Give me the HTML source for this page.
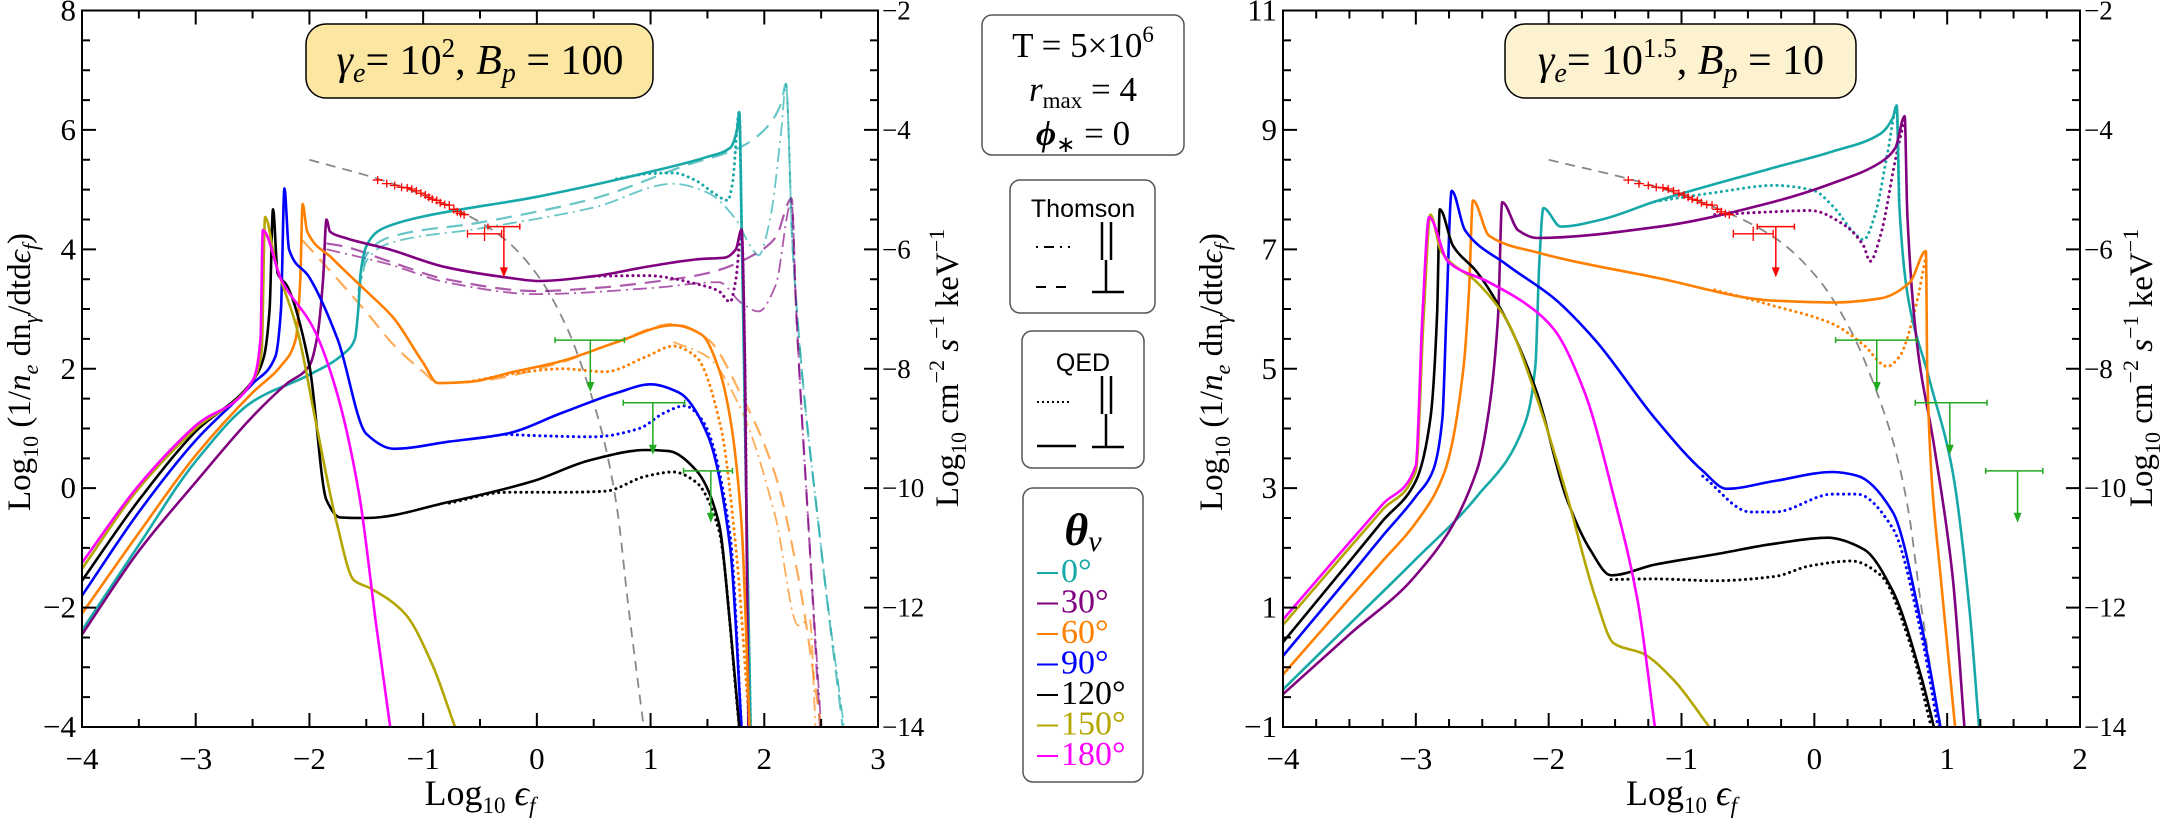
<!DOCTYPE html>
<html><head><meta charset="utf-8">
<style>
html,body{margin:0;padding:0;background:#fff;}
svg{display:block;}
text{font-family:"Liberation Serif",serif;fill:#000;}
.sans{font-family:"Liberation Sans",sans-serif;}
</style></head>
<body>
<svg id="chart" width="2170" height="820" viewBox="0 0 2170 820" xmlns="http://www.w3.org/2000/svg">
  <g id="left-panel"></g>
  <g id="right-panel"></g>

  <g>
    <rect x="306" y="24" width="347" height="74" rx="20" fill="#fce7a2" stroke="#000" stroke-width="1.5"/>
    <text x="480" y="74" font-size="42" text-anchor="middle"><tspan font-style="italic">γ</tspan><tspan font-style="italic" font-size="28" dy="8">e</tspan><tspan dy="-8">= 10</tspan><tspan font-size="27" dy="-17">2</tspan><tspan dy="17">,   </tspan><tspan font-style="italic">B</tspan><tspan font-style="italic" font-size="28" dy="8">p</tspan><tspan dy="-8"> = 100</tspan></text>
  </g>
  <g>
    <rect x="1505" y="24" width="351" height="74" rx="20" fill="#fdf2d0" stroke="#000" stroke-width="1.5"/>
    <text x="1681" y="74" font-size="42" text-anchor="middle"><tspan font-style="italic">γ</tspan><tspan font-style="italic" font-size="28" dy="8">e</tspan><tspan dy="-8">= 10</tspan><tspan font-size="27" dy="-17">1.5</tspan><tspan dy="17">,   </tspan><tspan font-style="italic">B</tspan><tspan font-style="italic" font-size="28" dy="8">p</tspan><tspan dy="-8"> = 10</tspan></text>
  </g>

  <g>
    <rect x="982" y="15" width="202" height="140" rx="10" fill="#fff" stroke="#555" stroke-width="1.5"/>
    <text x="1083" y="57" font-size="35" text-anchor="middle">T = 5×10<tspan font-size="23" dy="-15">6</tspan></text>
    <text x="1083" y="101" font-size="35" text-anchor="middle"><tspan font-style="italic">r</tspan><tspan font-size="23" dy="7">max</tspan><tspan dy="-7"> = 4</tspan></text>
    <text x="1083" y="145" font-size="35" text-anchor="middle"><tspan font-style="italic" font-weight="bold">ϕ</tspan><tspan font-size="23" dy="7">∗</tspan><tspan dy="-7"> = 0</tspan></text>
  </g>
  <g>
    <rect x="1010" y="180" width="145" height="133" rx="10" fill="#fff" stroke="#555" stroke-width="1.5"/>
    <text class="sans" x="1083" y="217" font-size="25" text-anchor="middle">Thomson</text>
    <line x1="1036" y1="247" x2="1070" y2="247" stroke="#000" stroke-width="2" stroke-dasharray="2,6,10,6"/>
    <line x1="1036" y1="287" x2="1076" y2="287" stroke="#000" stroke-width="2" stroke-dasharray="10,10"/>
    <line x1="1102" y1="222" x2="1102" y2="260" stroke="#000" stroke-width="2.5"/>
    <line x1="1111" y1="222" x2="1111" y2="260" stroke="#000" stroke-width="2.5"/>
    <line x1="1106" y1="260" x2="1106" y2="292" stroke="#000" stroke-width="2.5"/>
    <line x1="1092" y1="292" x2="1124" y2="292" stroke="#000" stroke-width="2.5"/>
  </g>
  <g>
    <rect x="1022" y="331" width="122" height="137" rx="10" fill="#fff" stroke="#555" stroke-width="1.5"/>
    <text class="sans" x="1083" y="371" font-size="25" text-anchor="middle">QED</text>
    <line x1="1037" y1="402" x2="1070" y2="402" stroke="#000" stroke-width="2" stroke-dasharray="2,3"/>
    <line x1="1037" y1="446" x2="1076" y2="446" stroke="#000" stroke-width="2.5"/>
    <line x1="1102" y1="376" x2="1102" y2="414" stroke="#000" stroke-width="2.5"/>
    <line x1="1111" y1="376" x2="1111" y2="414" stroke="#000" stroke-width="2.5"/>
    <line x1="1106" y1="414" x2="1106" y2="447" stroke="#000" stroke-width="2.5"/>
    <line x1="1092" y1="447" x2="1124" y2="447" stroke="#000" stroke-width="2.5"/>
  </g>
  <g id="theta-legend">
    <rect x="1023" y="488" width="120" height="294" rx="10" fill="#fff" stroke="#555" stroke-width="1.5"/>
    <text x="1083" y="545" font-size="46" font-style="italic" font-weight="bold" text-anchor="middle">θ<tspan font-size="30" font-weight="normal" dy="6">v</tspan></text>
  </g>
</svg>
<script>
var angleLabels = ["0°","30°","60°","90°","120°","150°","180°"];
var angleColors = ["#17a8a8","#800080","#ff8000","#0000ff","#000000","#b3a600","#ff00ff"];

var L_cyan = [[-4,-2.38],[-3.5,-0.95],[-3,0.45],[-2.5,1.45],[-2,1.9],[-1.7,2.25],[-1.6,2.5],[-1.57,3.0],[-1.55,3.6],[-1.5,4.05],[-1.4,4.3],[-1.26,4.42],[-1,4.55],[0,4.88],[1,5.3],[1.5,5.55],[1.7,5.7],[1.76,6.0],[1.78,6.3],[1.8,4.5],[1.84,0],[1.88,-4]];
var L_cyanDot = [[0.7,5.18],[1.0,5.27],[1.2,5.28],[1.4,5.15],[1.55,4.95],[1.68,4.82],[1.72,5.1],[1.78,6.3],[1.8,4.5],[1.84,0],[1.88,-4]];
var L_cyanDash = [[-1.57,3.3],[-1.5,3.9],[-1.3,4.2],[-0.5,4.45],[0.5,4.85],[1.3,5.4],[1.8,5.72],[2.0,6.0],[2.15,6.45],[2.19,6.77],[2.25,4.0],[2.5,-1],[2.69,-4]];
var L_cyanDashDot = [[-1.57,3.2],[-1.5,3.8],[-1.3,4.1],[-0.5,4.35],[0.5,4.7],[1.2,5.1],[1.5,4.95],[1.75,4.5],[1.88,4.05],[1.95,3.9],[2.05,4.5],[2.15,6.0],[2.19,6.77],[2.25,4.0],[2.5,-1],[2.7,-4]];
var L_purple = [[-4,-2.45],[-3.5,-1.05],[-3,0.1],[-2.5,1.2],[-2.2,1.75],[-2,2.05],[-1.93,2.55],[-1.88,3.5],[-1.85,4.5],[-1.82,4.3],[-1.7,4.2],[-1.3,4.0],[-0.8,3.7],[-0.27,3.53],[0.02,3.47],[0.5,3.55],[1.0,3.72],[1.45,3.84],[1.65,3.86],[1.75,4.0],[1.8,4.33],[1.83,2],[1.86,-4]];
var L_purpleDot = [[0.5,3.55],[0.96,3.56],[1.45,3.4],[1.6,3.3],[1.7,3.12],[1.75,3.5],[1.8,4.33],[1.83,2],[1.86,-4]];
var L_purpleDash = [[-1.85,4.1],[-1.7,4.05],[-1.3,3.8],[-0.8,3.5],[0,3.3],[0.5,3.35],[1.0,3.45],[1.5,3.6],[1.9,3.9],[2.1,4.2],[2.24,4.85],[2.28,3],[2.4,-1],[2.49,-4]];
var L_purpleDashDot = [[-1.85,4.0],[-1.3,3.75],[-0.8,3.45],[0,3.25],[1,3.35],[1.6,3.45],[1.8,3.1],[1.95,2.96],[2.1,3.4],[2.24,4.8],[2.28,3],[2.4,-1],[2.5,-4]];
var L_orange = [[-4,-2.1],[-3.5,-0.75],[-3,0.55],[-2.5,1.6],[-2.25,2.05],[-2.12,2.5],[-2.08,3.5],[-2.06,4.76],[-2.02,4.3],[-1.8,3.85],[-1.5,3.3],[-1.26,2.85],[-1,2.1],[-0.87,1.76],[-0.6,1.78],[-0.2,1.95],[0.22,2.13],[0.71,2.45],[1.2,2.73],[1.45,2.57],[1.6,2.0],[1.7,1.17],[1.8,-0.6],[1.87,-4]];
var L_orangeDot = [[-0.6,1.78],[-0.2,1.92],[0.22,2.0],[0.6,1.95],[0.96,2.2],[1.2,2.38],[1.4,2.2],[1.62,1.0],[1.75,-1],[1.87,-4]];
var L_orangeDash = [[-2.06,4.15],[-1.8,3.6],[-1.5,2.95],[-1.26,2.4],[-1,1.95],[-0.87,1.76],[-0.5,1.8],[0.2,2.1],[0.7,2.45],[1.2,2.75],[1.5,2.5],[1.8,1.55],[2.1,0.2],[2.3,-1.5],[2.5,-4]];
var L_orangeDashDot = [[1.2,2.45],[1.5,2.2],[1.8,1.3],[2.1,-0.5],[2.3,-2.3],[2.4,-2.2],[2.45,-4]];
var L_blue = [[-4,-1.8],[-3.5,-0.4],[-3,0.8],[-2.5,1.75],[-2.3,2.2],[-2.25,3],[-2.22,5.02],[-2.18,4.0],[-2,3.53],[-1.75,2.48],[-1.5,0.91],[-1.26,0.66],[-0.77,0.78],[-0.27,0.91],[0.22,1.26],[0.71,1.6],[1.0,1.74],[1.25,1.6],[1.5,0.9],[1.7,-1.0],[1.8,-4]];
var L_blueDot = [[-0.27,0.9],[0,0.88],[0.5,0.86],[0.9,1.0],[1.12,1.26],[1.3,1.38],[1.45,1.15],[1.7,-0.8],[1.8,-4]];
var L_black = [[-4,-1.55],[-3.5,-0.2],[-3,0.95],[-2.5,1.8],[-2.4,2.2],[-2.35,3],[-2.32,4.67],[-2.28,3.6],[-2.2,3.4],[-2,2.05],[-1.85,-0.2],[-1.73,-0.49],[-1.5,-0.5],[-0.77,-0.23],[-0.03,0.12],[0.47,0.47],[0.96,0.64],[1.16,0.62],[1.4,0.3],[1.6,-0.58],[1.7,-2.3],[1.78,-4]];
var L_blackDot = [[-0.77,-0.25],[-0.27,-0.07],[0.22,-0.07],[0.6,-0.05],[0.96,0.2],[1.2,0.27],[1.4,0.1],[1.6,-0.7],[1.78,-4]];
var L_olive = [[-4,-1.35],[-3.5,0],[-3,1.0],[-2.5,1.8],[-2.42,2.3],[-2.39,4.54],[-2.3,3.8],[-2.1,2.6],[-1.95,1.17],[-1.76,-0.58],[-1.61,-1.54],[-1.46,-1.68],[-1.16,-2.1],[-0.92,-2.95],[-0.72,-4]];
var L_magenta = [[-4,-1.25],[-3.5,0.05],[-3,1.05],[-2.5,1.8],[-2.43,2.5],[-2.41,4.32],[-2.25,3.5],[-1.96,2.66],[-1.76,1.61],[-1.56,-0.14],[-1.41,-2.33],[-1.29,-4]];

var R_cyan = [[-4,-0.37],[-3.5,0.72],[-3,1.81],[-2.54,2.86],[-2.18,4.08],[-2.1,5.05],[-2.07,6.8],[-2.04,7.69],[-1.91,7.38],[-1.6,7.5],[-1.2,7.8],[-0.3,8.37],[0.14,8.64],[0.5,8.94],[0.59,9.2],[0.62,9.41],[0.64,7.75],[0.7,6.27],[0.86,4.87],[1.04,3.29],[1.17,0.93],[1.24,-1]];
var R_cyanDot = [[-1.2,7.8],[-0.75,7.95],[-0.3,8.07],[0,7.98],[0.14,7.72],[0.32,7.23],[0.37,7.16],[0.46,7.6],[0.55,8.6],[0.62,9.35],[0.64,7.75]];
var R_purple = [[-4,-0.45],[-3.5,0.55],[-3,1.54],[-2.54,3.3],[-2.45,4.3],[-2.38,5.92],[-2.35,7.79],[-2.23,7.32],[-2.09,7.19],[-1.2,7.37],[-0.3,7.8],[0.14,8.11],[0.5,8.46],[0.61,8.7],[0.68,9.23],[0.7,7.6],[0.77,5.48],[0.9,3.73],[1.04,1.54],[1.13,-1]];
var R_purpleDot = [[-0.75,7.58],[-0.3,7.63],[-0.03,7.65],[0.23,7.4],[0.37,7.06],[0.42,6.8],[0.5,7.25],[0.61,8.5],[0.68,9.2]];
var R_orange = [[-4,-0.12],[-3.5,1.15],[-3.25,1.78],[-3,2.42],[-2.78,3.3],[-2.64,5.05],[-2.6,6.3],[-2.57,7.82],[-2.45,7.23],[-2.09,6.95],[-1.2,6.53],[-0.3,6.14],[0.14,6.11],[0.5,6.18],[0.72,6.45],[0.84,6.97],[0.85,5.0],[0.88,3.29],[0.95,1.54],[1.06,-1]];
var R_orangeDot = [[-0.75,6.32],[-0.3,6.05],[0.14,5.75],[0.37,5.4],[0.55,5.04],[0.64,5.2],[0.77,6.1],[0.84,6.9]];
var R_blue = [[-4,0.19],[-3.5,1.52],[-3.25,2.2],[-3,2.86],[-2.87,3.3],[-2.8,4.17],[-2.77,5.92],[-2.73,7.98],[-2.63,7.32],[-2.32,6.75],[-1.96,6.18],[-1.65,5.48],[-1.2,4.17],[-0.84,3.29],[-0.66,2.99],[-0.3,3.12],[0.14,3.27],[0.32,3.21],[0.59,2.6],[0.81,0.67],[0.95,-1]];
var R_blueDot = [[-0.84,3.2],[-0.48,2.6],[-0.3,2.6],[0.14,2.9],[0.32,2.9],[0.59,2.33],[0.81,0.5],[0.93,-1]];
var R_black = [[-4,0.42],[-3.5,1.77],[-3.25,2.45],[-3,3.12],[-2.89,4.17],[-2.84,5.92],[-2.82,7.67],[-2.72,7.06],[-2.54,6.62],[-2.32,5.83],[-2.09,4.61],[-1.87,2.86],[-1.69,1.98],[-1.53,1.54],[-1.2,1.72],[-0.75,1.89],[-0.3,2.07],[0.1,2.17],[0.37,1.98],[0.59,1.28],[0.81,-0.2],[0.9,-1]];
var R_blackDot = [[-1.53,1.47],[-1.2,1.48],[-0.75,1.45],[-0.3,1.52],[-0.03,1.7],[0.28,1.78],[0.5,1.54],[0.72,0.4],[0.88,-1]];
var R_olive = [[-4,0.71],[-3.5,2.0],[-3.25,2.64],[-3,3.29],[-2.94,5.92],[-2.89,7.58],[-2.81,6.97],[-2.54,6.45],[-2.32,5.83],[-2.09,4.52],[-1.87,2.94],[-1.64,1.11],[-1.51,0.4],[-1.29,0.23],[-1.06,-0.21],[-0.79,-1]];
var R_magenta = [[-4,0.8],[-3.5,2.09],[-3.25,2.73],[-3,3.38],[-2.95,5.92],[-2.9,7.54],[-2.76,6.8],[-2.45,6.45],[-2.18,6.1],[-1.96,5.66],[-1.73,4.61],[-1.51,2.86],[-1.33,1.11],[-1.2,-1]];

var modelDashed = [[-2.0,-4.5],[-1.3,-4.88],[-0.62,-5.42],[-0.27,-5.85],[0.02,-6.47],[0.27,-7.34],[0.47,-8.39],[0.61,-9.36],[0.71,-10.4],[0.8,-11.9],[0.94,-14]];
var redX = [-1.40,-1.32,-1.25,-1.19,-1.14,-1.10,-1.06,-1.02,-0.98,-0.95,-0.92,-0.88,-0.85,-0.81,-0.77,-0.73,-0.70,-0.67,-0.64];
var redY = [-4.84,-4.90,-4.93,-4.96,-4.97,-4.99,-5.02,-5.06,-5.09,-5.13,-5.16,-5.18,-5.22,-5.25,-5.26,-5.33,-5.37,-5.40,-5.42];
var redPoint = [-0.46, 0.15, -5.74, 0.12];
var redLimit = [-0.29, 0.14, -5.62, -6.47];
var greenX = [0.47, 1.02, 1.53];
var greenXlo = [0.16, 0.76, 1.29];
var greenXhi = [0.77, 1.30, 1.72];
var greenY = [-7.52, -8.57, -9.71];
var greenEnd = [-8.39, -9.44, -10.58];

var NS = "http://www.w3.org/2000/svg";
function mk(parent, tag, attrs){ var e=document.createElementNS(NS,tag); for(var k in attrs) e.setAttribute(k,attrs[k]); parent.appendChild(e); return e; }

function monoPath(P){
  var n=P.length; if(n<2) return "";
  var dx=[],dy=[],m=[],t=[];
  for(var i=0;i<n-1;i++){ dx[i]=P[i+1][0]-P[i][0]; dy[i]=P[i+1][1]-P[i][1]; m[i]=dx[i]?dy[i]/dx[i]:0; }
  t[0]=m[0]; t[n-1]=m[n-2];
  for(var i=1;i<n-1;i++){ t[i]=(m[i-1]*m[i]<=0)?0:(3*(dx[i-1]+dx[i]))/((2*dx[i]+dx[i-1])/m[i-1]+(dx[i]+2*dx[i-1])/m[i]); }
  var d="M"+P[0][0].toFixed(1)+","+P[0][1].toFixed(1);
  for(var i=0;i<n-1;i++){
    var h=dx[i]/3;
    d+="C"+(P[i][0]+h).toFixed(1)+","+(P[i][1]+t[i]*h).toFixed(1)+" "+(P[i+1][0]-h).toFixed(1)+","+(P[i+1][1]-t[i+1]*h).toFixed(1)+" "+P[i+1][0].toFixed(1)+","+P[i+1][1].toFixed(1);
  }
  return d;
}

function buildPanel(g, cfg){
  var sx = function(v){ return cfg.x0 + (v-cfg.xmin)/(cfg.xmax-cfg.xmin)*(cfg.x1-cfg.x0); };
  var sy = function(v){ return cfg.y1 - (v-cfg.ymin)/(cfg.ymax-cfg.ymin)*(cfg.y1-cfg.y0); };
  var sf = function(v){ return cfg.y1 - (v-(-14))/((-2)-(-14))*(cfg.y1-cfg.y0); };
  var clip = mk(g,"clipPath",{id:cfg.id+"-clip"});
  mk(clip,"rect",{x:cfg.x0,y:cfg.y0,width:cfg.x1-cfg.x0,height:cfg.y1-cfg.y0});
  var plot = mk(g,"g",{"clip-path":"url(#"+cfg.id+"-clip)"});
  
  
  function path(pts, fy, style, name){
    var P = pts.map(function(p){ return [sx(p[0]), fy(p[1])]; });
    var a = {d:monoPath(P), fill:"none", stroke:style.c, "stroke-width":style.w||2.6, "stroke-linejoin":"round"};
    if(style.dash) a["stroke-dasharray"]=style.dash;
    if(style.cap) a["stroke-linecap"]=style.cap;
    if(style.op) a["stroke-opacity"]=style.op;
    var e = mk(plot,"path",a);
    
    
  }
  path(modelDashed, sf, {c:"#888",w:1.8,dash:"10,7"}, cfg.id+"-model-dashed");
  cfg.series.forEach(function(s){ path(s.pts, sy, s.style, s.name); });
  var red="#ff0000";
  for(var i=0;i<redX.length;i++){
    var px=sx(redX[i]), py=sf(redY[i]);
    var e=mk(plot,"path",{d:"M"+(px-5)+","+py+"H"+(px+5)+"M"+px+","+(py-4)+"V"+(py+4),stroke:red,"stroke-width":1.3,fill:"none"});
    
    
  }
  var rp=redPoint;
  var e2=mk(plot,"path",{d:"M"+sx(rp[0]-rp[1])+","+sf(rp[2])+"H"+sx(rp[0]+rp[1])+"M"+sx(rp[0])+","+sf(rp[2]+rp[3])+"V"+sf(rp[2]-rp[3])+"M"+sx(rp[0]-rp[1])+","+(sf(rp[2])-4)+"v8M"+sx(rp[0]+rp[1])+","+(sf(rp[2])-4)+"v8",stroke:red,"stroke-width":1.3,fill:"none"});
  
  
  function ul(x,xl,xh,y,ye,col,name){
    var gg=mk(plot,"g",{});
    
    
    mk(gg,"path",{d:"M"+sx(xl)+","+sf(y)+"H"+sx(xh)+"M"+sx(xl)+","+(sf(y)-3)+"v6M"+sx(xh)+","+(sf(y)-3)+"v6M"+sx(x)+","+sf(y)+"V"+(sf(ye)-8),stroke:col,"stroke-width":1.5,fill:"none"});
    mk(gg,"path",{d:"M"+(sx(x)-4)+","+(sf(ye)-10)+"L"+(sx(x)+4)+","+(sf(ye)-10)+"L"+sx(x)+","+sf(ye)+"Z",fill:col});
  }
  ul(redLimit[0],redLimit[0]-redLimit[1],redLimit[0]+redLimit[1],redLimit[2],redLimit[3],red,"red-upper-limit");
  for(var j=0;j<greenX.length;j++) ul(greenX[j],greenXlo[j],greenXhi[j],greenY[j],greenEnd[j],"#22aa22","green-upper-limit");

  var fr=mk(g,"rect",{x:cfg.x0,y:cfg.y0,width:cfg.x1-cfg.x0,height:cfg.y1-cfg.y0,fill:"none",stroke:"#000","stroke-width":2});
  
  
  var tk="";
  for(var v=cfg.xmin; v<=cfg.xmax+1e-9; v+=cfg.xminor){
    var isMaj = Math.abs(v-Math.round(v))<1e-6;
    var L = isMaj?14:8, X=sx(v);
    tk+="M"+X+","+cfg.y1+"v"+(-L)+"M"+X+","+cfg.y0+"v"+L;
  }
  for(var v=cfg.ymin; v<=cfg.ymax+1e-9; v+=0.5){
    var isMaj = Math.abs((v-cfg.ymin)/cfg.ymajor - Math.round((v-cfg.ymin)/cfg.ymajor))<1e-6;
    tk+="M"+cfg.x0+","+sy(v)+"h"+(isMaj?14:8);
  }
  for(var v=-14; v<=-2+1e-9; v+=0.5){
    var isMaj = Math.abs(v/2-Math.round(v/2))<1e-6;
    tk+="M"+cfg.x1+","+sf(v)+"h"+(isMaj?-14:-8);
  }
  mk(g,"path",{d:tk,stroke:"#000","stroke-width":2,fill:"none"});
  for(var v=cfg.xmin; v<=cfg.xmax; v++){
    var t=mk(g,"text",{x:sx(v),y:cfg.y1+42,"font-size":31,"text-anchor":"middle"}); t.textContent=(v<0?"−":"")+Math.abs(v);
    
    
  }
  for(var v=cfg.ymin; v<=cfg.ymax; v+=cfg.ymajor){
    var t=mk(g,"text",{x:cfg.x0-6,y:sy(v)+10,"font-size":31,"text-anchor":"end"}); t.textContent=(v<0?"−":"")+Math.abs(v);
    
    
  }
  for(var v=-14; v<=-2; v+=2){
    var t=mk(g,"text",{x:cfg.x1+4,y:sf(v)+9,"font-size":27,"text-anchor":"start"}); t.textContent="−"+Math.abs(v);
    
    
  }
  var xt=mk(g,"text",{x:(cfg.x0+cfg.x1)/2,y:805,"font-size":36,"text-anchor":"middle"});
  xt.innerHTML='Log<tspan font-size="23" dy="8">10</tspan><tspan dy="-8"> </tspan><tspan font-style="italic">ϵ</tspan><tspan font-style="italic" font-size="23" dy="8">f</tspan>';
  
  
  var yt=mk(g,"text",{x:0,y:0,"font-size":33,"text-anchor":"middle",transform:"translate("+(cfg.ytx)+",372) rotate(-90)"});
  yt.innerHTML='Log<tspan font-size="22" dy="8">10</tspan><tspan dy="-8"> (1/</tspan><tspan font-style="italic">n</tspan><tspan font-style="italic" font-size="22" dy="8">e</tspan><tspan dy="-8"> dn</tspan><tspan font-style="italic" font-size="22" dy="8">γ</tspan><tspan dy="-8">/dtd</tspan><tspan font-style="italic">ϵ</tspan><tspan font-style="italic" font-size="22" dy="8">f</tspan><tspan dy="-8">)</tspan>';
  
  
  var rt=mk(g,"text",{x:0,y:0,"font-size":33,"text-anchor":"middle",transform:"translate("+(cfg.rtx)+",368) rotate(-90)"});
  rt.innerHTML='Log<tspan font-size="22" dy="8">10</tspan><tspan dy="-8"> cm</tspan><tspan font-size="22" dy="-14">−2</tspan><tspan dy="14"> </tspan><tspan font-style="italic">s</tspan><tspan font-size="22" dy="-14">−1</tspan><tspan dy="14"> keV</tspan><tspan font-size="22" dy="-14">−1</tspan>';
  
  
}

function S(c,kind){
  if(kind==="dot") return {c:c,w:3,dash:"0.1,5.5",cap:"round"};
  if(kind==="dash") return {c:c,w:2.2,dash:"16,9",op:0.65};
  if(kind==="dashdot") return {c:c,w:1.8,dash:"14,5,2,5",op:0.65};
  return {c:c,w:2.6};
}
var C=angleColors;
buildPanel(document.getElementById("left-panel"),{
  id:"left", x0:82,x1:878,y0:10.5,y1:727,xmin:-4,xmax:3,ymin:-4,ymax:8,ymajor:2,xminor:0.5,ytx:30,rtx:958,
  series:[
    {pts:L_cyanDashDot,style:S(C[0],"dashdot"),name:"cyan-thomson-par"},
    {pts:L_cyanDash,style:S(C[0],"dash"),name:"cyan-thomson-perp"},
    {pts:L_purpleDashDot,style:S(C[1],"dashdot"),name:"purple-thomson-par"},
    {pts:L_purpleDash,style:S(C[1],"dash"),name:"purple-thomson-perp"},
    {pts:L_orangeDashDot,style:S(C[2],"dashdot"),name:"orange-thomson-par"},
    {pts:L_orangeDash,style:S(C[2],"dash"),name:"orange-thomson-perp"},
    {pts:L_cyanDot,style:S(C[0],"dot"),name:"cyan-qed-par"},
    {pts:L_purpleDot,style:S(C[1],"dot"),name:"purple-qed-par"},
    {pts:L_orangeDot,style:S(C[2],"dot"),name:"orange-qed-par"},
    {pts:L_blueDot,style:S(C[3],"dot"),name:"blue-qed-par"},
    {pts:L_blackDot,style:S(C[4],"dot"),name:"black-qed-par"},
    {pts:L_cyan,style:S(C[0]),name:"curve-0deg"},
    {pts:L_purple,style:S(C[1]),name:"curve-30deg"},
    {pts:L_orange,style:S(C[2]),name:"curve-60deg"},
    {pts:L_blue,style:S(C[3]),name:"curve-90deg"},
    {pts:L_black,style:S(C[4]),name:"curve-120deg"},
    {pts:L_olive,style:S(C[5]),name:"curve-150deg"},
    {pts:L_magenta,style:S(C[6]),name:"curve-180deg"}
  ]});
buildPanel(document.getElementById("right-panel"),{
  id:"right", x0:1283,x1:2080,y0:10.5,y1:727,xmin:-4,xmax:2,ymin:-1,ymax:11,ymajor:2,xminor:0.25,ytx:1222,rtx:2152,
  series:[
    {pts:R_cyanDot,style:S(C[0],"dot"),name:"cyan-qed-par"},
    {pts:R_purpleDot,style:S(C[1],"dot"),name:"purple-qed-par"},
    {pts:R_orangeDot,style:S(C[2],"dot"),name:"orange-qed-par"},
    {pts:R_blueDot,style:S(C[3],"dot"),name:"blue-qed-par"},
    {pts:R_blackDot,style:S(C[4],"dot"),name:"black-qed-par"},
    {pts:R_cyan,style:S(C[0]),name:"curve-0deg"},
    {pts:R_purple,style:S(C[1]),name:"curve-30deg"},
    {pts:R_orange,style:S(C[2]),name:"curve-60deg"},
    {pts:R_blue,style:S(C[3]),name:"curve-90deg"},
    {pts:R_black,style:S(C[4]),name:"curve-120deg"},
    {pts:R_olive,style:S(C[5]),name:"curve-150deg"},
    {pts:R_magenta,style:S(C[6]),name:"curve-180deg"}
  ]});

var tl=document.getElementById("theta-legend");
for(var i=0;i<angleLabels.length;i++){
  var y=570+i*30.5;
  var ln=mk(tl,"line",{x1:1037,y1:y+3,x2:1058,y2:y+3,stroke:angleColors[i],"stroke-width":2});
  
  
  var t=mk(tl,"text",{x:1061,y:y+12,"font-size":34});
  t.style.fill=angleColors[i];
  t.textContent=angleLabels[i];
  
  
}
</script>
</body></html>
